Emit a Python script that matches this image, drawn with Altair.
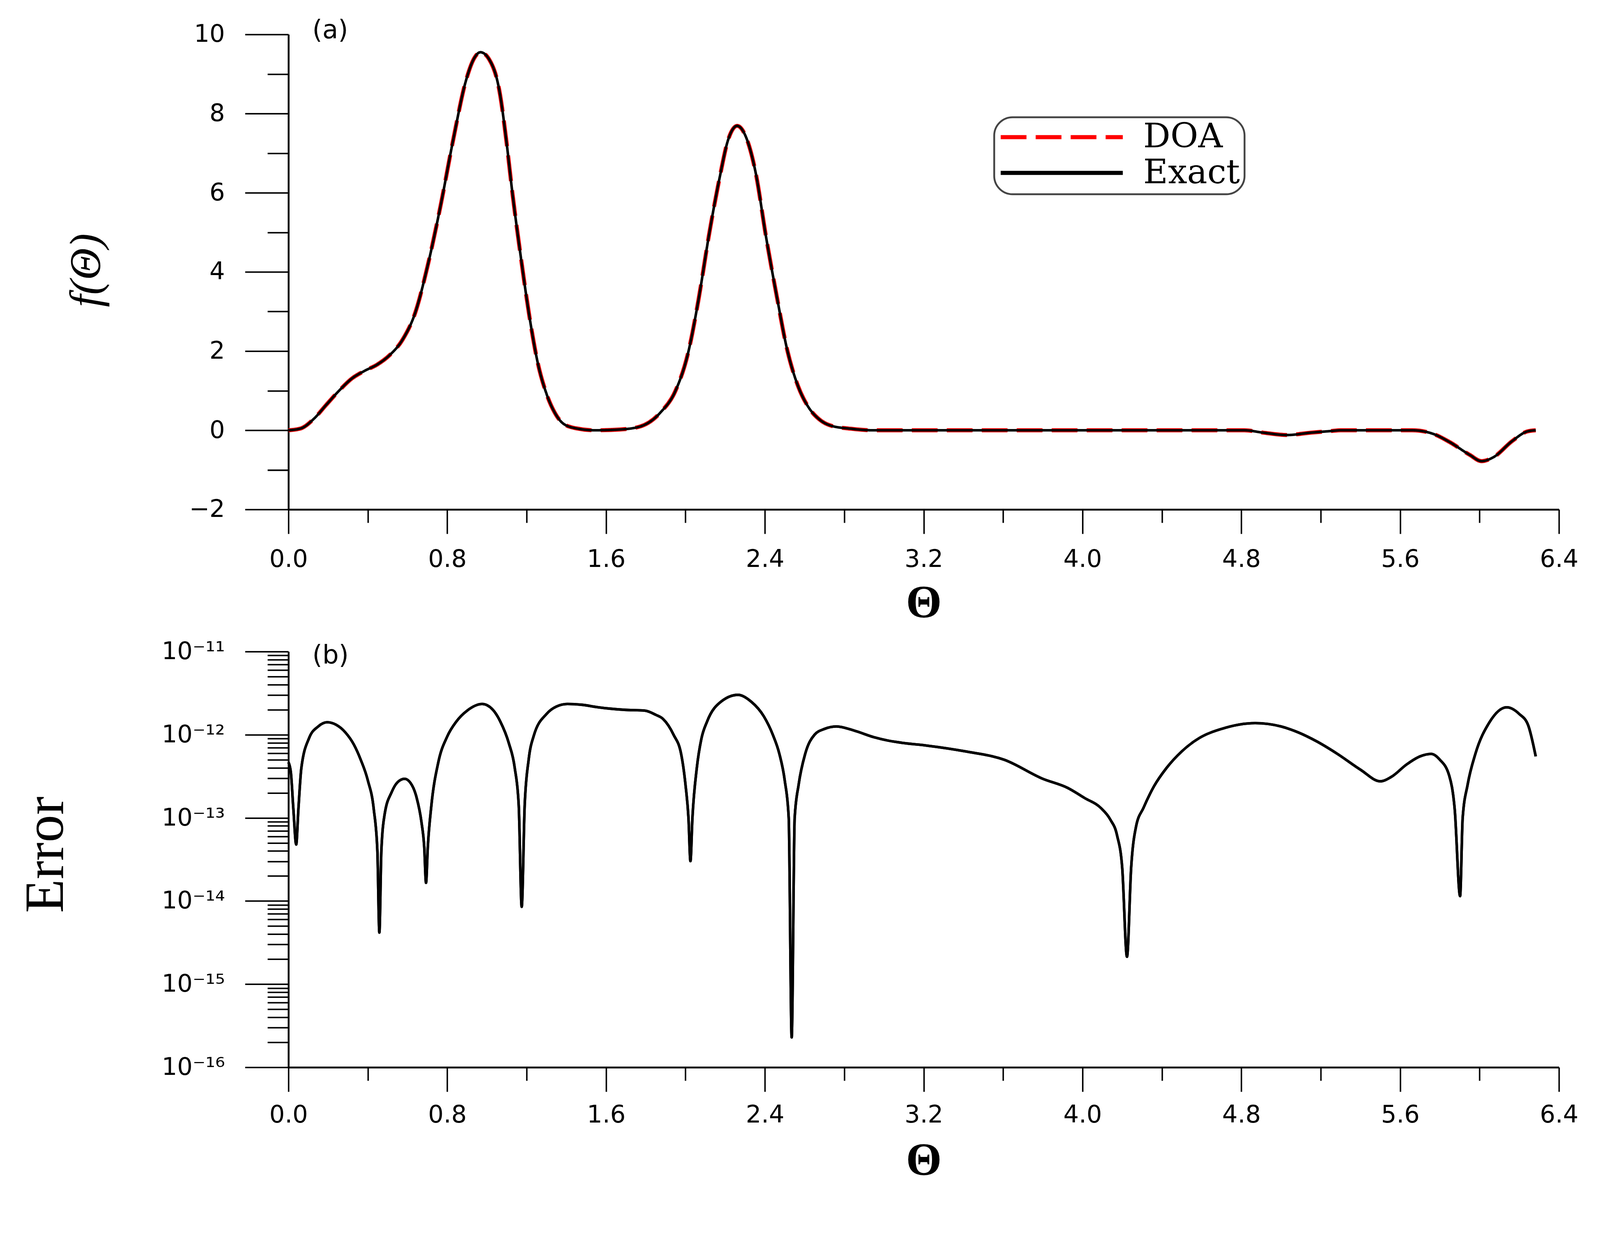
import altair as alt
import pandas as pd

# ---------------- data ----------------
series_names = ["DOA", "Exact"]
series_colors = ["#ff0000", "#000000"]
panel_labels = ["(a)", "(b)"]

# panel (a): f(theta) ; DOA and Exact coincide in the picture
theta_a = [0.000, 0.064, 0.128, 0.190, 0.255, 0.320, 0.383, 0.447, 0.510, 0.575,
           0.640, 0.700, 0.767, 0.830, 0.894, 0.937, 0.967, 1.011, 1.065, 1.097,
           1.128, 1.171, 1.214, 1.256, 1.300, 1.341, 1.384, 1.448, 1.544, 1.670,
           1.768, 1.874, 1.949, 2.013, 2.066, 2.119, 2.172, 2.215, 2.260, 2.310,
           2.353, 2.406, 2.460, 2.513, 2.566, 2.620, 2.673, 2.737, 2.832, 2.940,
           3.500, 4.000, 4.500, 4.815, 4.910, 5.030, 5.150, 5.250, 5.300, 5.660,
           5.760, 5.850, 5.950, 6.010, 6.070, 6.165, 6.240, 6.283]
f_exact = [0.00, 0.05, 0.29, 0.64, 1.00, 1.31, 1.50, 1.66, 1.90, 2.29,
           2.99, 4.13, 5.69, 7.34, 8.83, 9.41, 9.55, 9.37, 8.51, 7.34,
           6.00, 4.36, 2.87, 1.70, 0.92, 0.45, 0.17, 0.05, 0.00, 0.02,
           0.09, 0.45, 0.99, 1.95, 3.31, 4.95, 6.38, 7.34, 7.69, 7.34,
           6.52, 4.88, 3.38, 2.02, 1.13, 0.58, 0.28, 0.11, 0.04, 0.00,
           0.00, 0.00, 0.00, 0.00, -0.06, -0.12, -0.06, -0.02, 0.00, 0.00,
           -0.08, -0.30, -0.62, -0.78, -0.68, -0.27, -0.03, 0.00]
f_doa = list(f_exact)

# panel (b): log10 of the error
theta_b = [0.000, 0.012, 0.025, 0.039, 0.050, 0.065, 0.104, 0.150, 0.195, 0.240,
           0.286, 0.330, 0.364, 0.400, 0.430, 0.448, 0.458, 0.468, 0.485, 0.520,
           0.550, 0.585, 0.615, 0.645, 0.670, 0.684, 0.693, 0.702, 0.720, 0.755,
           0.800, 0.846, 0.900, 0.976, 1.030, 1.067, 1.110, 1.140, 1.160, 1.175,
           1.190, 1.210, 1.236, 1.300, 1.350, 1.405, 1.480, 1.561, 1.691, 1.795,
           1.850, 1.887, 1.940, 1.978, 2.000, 2.015, 2.025, 2.035, 2.057, 2.080,
           2.109, 2.180, 2.265, 2.330, 2.395, 2.440, 2.473, 2.500, 2.520, 2.535,
           2.550, 2.570, 2.603, 2.650, 2.700, 2.760, 2.850, 2.950, 3.020, 3.100,
           3.215, 3.410, 3.605, 3.800, 3.926, 4.010, 4.092, 4.140, 4.174, 4.200,
           4.224, 4.245, 4.270, 4.307, 4.360, 4.423, 4.500, 4.588, 4.700, 4.870,
           5.000, 5.085, 5.180, 5.284, 5.400, 5.500, 5.560, 5.631, 5.700, 5.756,
           5.800, 5.847, 5.875, 5.902, 5.915, 5.940, 5.979, 6.050, 6.137, 6.200,
           6.244, 6.283]
log_err_b = [-12.33, -12.45, -12.90, -13.32, -12.90, -12.40, -12.04, -11.90, -11.85, -11.88,
             -11.97, -12.12, -12.30, -12.55, -12.90, -13.40, -14.38, -13.40, -12.95, -12.69,
             -12.57, -12.53, -12.58, -12.75, -13.05, -13.35, -13.78, -13.35, -12.85, -12.33,
             -12.02, -11.84, -11.71, -11.63, -11.70, -11.84, -12.10, -12.40, -12.85, -14.07,
             -12.85, -12.30, -12.01, -11.75, -11.66, -11.63, -11.64, -11.67, -11.70, -11.71,
             -11.76, -11.81, -12.00, -12.23, -12.60, -13.00, -13.52, -13.00, -12.40, -12.05,
             -11.84, -11.60, -11.52, -11.60, -11.78, -12.00, -12.23, -12.55, -13.00, -15.64,
             -13.00, -12.60, -12.23, -12.00, -11.93, -11.90, -11.95, -12.03, -12.07, -12.10,
             -12.13, -12.20, -12.30, -12.53, -12.64, -12.76, -12.88, -13.02, -13.21, -13.60,
             -14.67, -13.60, -13.10, -12.88, -12.62, -12.40, -12.20, -12.04, -11.93, -11.86,
             -11.90, -11.97, -12.08, -12.23, -12.42, -12.56, -12.50, -12.36, -12.26, -12.23,
             -12.30, -12.49, -12.90, -13.94, -13.00, -12.60, -12.23, -11.85, -11.67, -11.75,
             -11.88, -12.26]

# axis ticks
x_major = [0.0, 0.8, 1.6, 2.4, 3.2, 4.0, 4.8, 5.6, 6.4]
x_minor = [0.4, 1.2, 2.0, 2.8, 3.6, 4.4, 5.2, 6.0]
ya_major = [-2, 0, 2, 4, 6, 8, 10]
ya_minor = [-1, 1, 3, 5, 7, 9]
yb_exps = [-16, -15, -14, -13, -12, -11]

# ---------------- tables ----------------
df_a = pd.concat([
    pd.DataFrame({"theta": theta_a, "f": f_doa, "series": "DOA", "order": range(len(theta_a))}),
    pd.DataFrame({"theta": theta_a, "f": f_exact, "series": "Exact", "order": range(len(theta_a))}),
])
df_b = pd.DataFrame({"theta": theta_b, "err": [10.0 ** v for v in log_err_b],
                     "order": range(len(theta_b))})

yb_major = [10.0 ** e for e in yb_exps]
yb_minor = [k * 10.0 ** e for e in yb_exps[:-1] for k in range(2, 10)]

SUP = str.maketrans("-0123456789", "⁻⁰¹²³⁴⁵⁶⁷⁸⁹")
label_expr = " : ".join(
    f"round(log(datum.value)/LN10) == {e} ? '10{str(e).translate(SUP)}'" for e in yb_exps
) + " : ''"

SANS = "DejaVu Sans"
SERIF = "Liberation Serif"
LBL = 66
W = 3451
HA = 1290
HB = 1129


def x_axis_major(label_pad):
    return alt.Axis(values=x_major, format=".1f", orient="bottom", grid=False,
                    tickSize=66, tickWidth=4, tickColor="black",
                    domainWidth=5, domainColor="black",
                    labelFont=SANS, labelFontSize=LBL, labelColor="black",
                    labelPadding=label_pad, labelFlush=False, labelOverlap=False,
                    title="Θ", titleFont=SERIF, titleFontSize=125, titleFontWeight="bold",
                    titleColor="black", titleY=254, titleBaseline="middle")


def x_axis_minor():
    return alt.Axis(values=x_minor, orient="bottom", grid=False, labels=False,
                    domain=False, tickSize=36, tickWidth=4, tickColor="black", title=None)


x_scale = alt.Scale(domain=[0, 6.4], nice=False, zero=False)

# ---------------- panel (a) ----------------
color_scale = alt.Scale(domain=series_names, range=series_colors)
dash_scale = alt.Scale(domain=series_names, range=[[70, 25], [1, 0]])
leg = alt.Legend(title=None, orient="none", legendX=1917, legendY=225)

ya_scale = alt.Scale(domain=[-2, 10], nice=False, zero=False)

doa = alt.Chart(df_a).transform_filter(alt.datum.series == "DOA").mark_line(
    interpolate="monotone", strokeWidth=11
).encode(
    x=alt.X("theta:Q", scale=x_scale, axis=x_axis_major(38)),
    y=alt.Y("f:Q", scale=ya_scale,
            axis=alt.Axis(values=ya_major, orient="left", grid=False,
                          tickSize=118, tickWidth=4, tickColor="black",
                          domainWidth=5, domainColor="black",
                          labelFont=SANS, labelFontSize=LBL, labelColor="black",
                          labelPadding=55, labelFlush=False, labelOverlap=False,
                          title="f(Θ)", titleFont=SERIF, titleFontStyle="italic",
                          titleFontWeight="normal", titleFontSize=120, titleColor="black",
                          titleAngle=270, titleAlign="center", titleBaseline="middle",
                          titleX=-548, titleY=640)),
    color=alt.Color("series:N", scale=color_scale, legend=leg),
    strokeDash=alt.StrokeDash("series:N", scale=dash_scale, legend=leg),
    order="order:Q",
)

exact = alt.Chart(df_a).transform_filter(alt.datum.series == "Exact").mark_line(
    interpolate="monotone", strokeWidth=7
).encode(
    x=alt.X("theta:Q", scale=x_scale, axis=x_axis_minor()),
    y=alt.Y("f:Q", scale=ya_scale,
            axis=alt.Axis(values=ya_minor, orient="left", grid=False, labels=False,
                          domain=False, tickSize=57, tickWidth=4, tickColor="black",
                          title=None)),
    color=alt.Color("series:N", scale=color_scale, legend=leg),
    strokeDash=alt.StrokeDash("series:N", scale=dash_scale, legend=leg),
    order="order:Q",
)

label_a = alt.Chart(pd.DataFrame({"label": [panel_labels[0]]})).mark_text(
    align="left", baseline="middle", font=SANS, fontSize=70, color="black"
).encode(
    x=alt.X(datum=0.12, scale=x_scale, axis=None),
    y=alt.Y(datum=10.1, scale=ya_scale, axis=None),
    text="label:N",
)

top = alt.layer(doa, exact, label_a).resolve_axis(x="independent", y="independent").properties(
    width=W, height=HA,
)

# ---------------- panel (b) ----------------
yb_scale = alt.Scale(type="log", domain=[1e-16, 1e-11], nice=False)

err_main = alt.Chart(df_b).mark_line(interpolate="monotone", strokeWidth=7, color="black").encode(
    x=alt.X("theta:Q", scale=x_scale, axis=x_axis_major(31)),
    y=alt.Y("err:Q", scale=yb_scale,
            axis=alt.Axis(values=yb_major, orient="left", grid=False,
                          tickSize=118, tickWidth=4, tickColor="black",
                          domainWidth=5, domainColor="black",
                          labelExpr=label_expr,
                          labelFont=SANS, labelFontSize=LBL, labelColor="black",
                          labelPadding=55, labelFlush=False, labelOverlap=False,
                          title="Error", titleFont=SERIF, titleFontWeight="normal",
                          titleFontSize=150, titleColor="black",
                          titleAngle=270, titleAlign="center", titleBaseline="middle",
                          titleX=-658, titleY=551)),
    order="order:Q",
)

err_minor = alt.Chart(df_b).mark_line(interpolate="monotone", strokeWidth=7, color="black").encode(
    x=alt.X("theta:Q", scale=x_scale, axis=x_axis_minor()),
    y=alt.Y("err:Q", scale=yb_scale,
            axis=alt.Axis(values=yb_minor, orient="left", grid=False, labels=False,
                          domain=False, tickSize=57, tickWidth=4, tickColor="black",
                          title=None)),
    order="order:Q",
)

label_b = alt.Chart(pd.DataFrame({"label": [panel_labels[1]]})).mark_text(
    align="left", baseline="middle", font=SANS, fontSize=70, color="black"
).encode(
    x=alt.X(datum=0.12, scale=x_scale, axis=None),
    y=alt.Y(datum=8.9e-12, scale=yb_scale, axis=None),
    text="label:N",
)

bottom = alt.layer(err_main, err_minor, label_b).resolve_axis(x="independent", y="independent").properties(
    width=W, height=HB,
)

chart = alt.vconcat(top, bottom, spacing=386, bounds="flush").resolve_scale(
    color="independent", strokeDash="independent"
).properties(
    padding={"left": 42, "top": -56, "right": 50, "bottom": 0},
    background="white",
).configure_view(stroke=None).configure_legend(
    symbolType="stroke", symbolSize=110000, symbolStrokeWidth=11,
    clipHeight=84, rowPadding=5, padding=12,
    labelFont="DejaVu Serif", labelFontSize=92, labelColor="black", labelOffset=50, labelLimit=0,
    strokeColor="#444444", strokeWidth=5, cornerRadius=50, fillColor="white",
)

chart.save("out.html", embed_options={"renderer": "svg", "actions": False})
